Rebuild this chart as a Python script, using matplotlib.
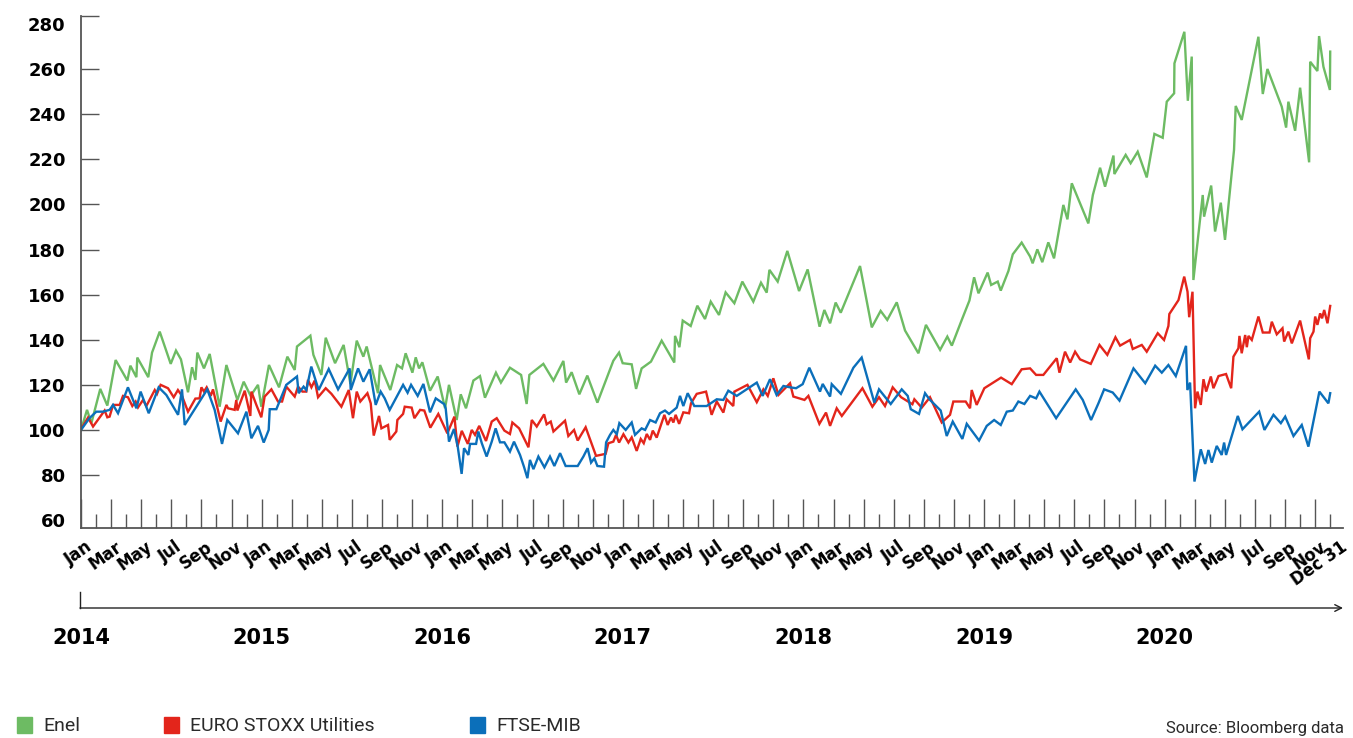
import numpy as np
import matplotlib
matplotlib.use("Agg")
import matplotlib.pyplot as plt
import matplotlib.transforms as mtransforms
from matplotlib.lines import Line2D
from matplotlib.patches import Rectangle

# x values are months since 1 Jan 2014 (83 = Dec 31 2020), values are index (2014 = 100)
enel_t = [0, 0.4, 0.69, 1.28, 1.75, 2.3, 3.08, 3.28, 3.68, 3.74, 4.47, 4.72, 5.23, 5.96, 6.31,
          6.64, 7.11, 7.38, 7.6, 7.73, 8.17, 8.55, 9.21, 9.66, 10.39, 10.81, 11.27, 11.76, 11.98,
          12.49, 13.16, 13.71, 14.2, 14.35, 15.24, 15.44, 15.97, 16.26, 16.88, 17.45, 17.9, 18.32,
          18.76, 18.98, 19.73, 19.87, 20.55, 21.0, 21.33, 21.57,
          22.02, 22.24, 22.46, 22.68, 23.19, 23.7, 24.19, 24.45, 24.96, 25.23, 25.58, 26.07, 26.51,
          26.84, 27.57, 27.9, 28.5, 29.24, 29.61, 29.79, 30.72, 31.39, 32.05, 32.23, 32.6, 33.11,
          33.64, 34.31, 35.37, 35.75, 35.99, 36.59, 36.88, 37.25, 37.87, 38.58, 39.42, 39.47,
          39.76, 39.98, 40.51, 40.95, 41.46, 41.84, 42.39,
          42.83, 43.41, 43.94, 44.67, 45.18, 45.56, 45.74, 46.29, 46.93, 47.71, 48.28, 49.07,
          49.39, 49.77, 50.14, 50.48, 51.76, 52.54, 53.13, 53.57, 54.2, 54.75, 55.64, 56.14, 57.08,
          57.56, 57.86, 58.52, 59.03, 59.34, 59.63, 60.24, 60.47, 60.91, 61.11, 61.62, 61.91, 62.5,
          63.06, 63.23, 63.54, 63.87, 64.27, 64.65, 65.27, 65.54, 65.83, 66.93, 67.23, 67.71,
          68.04, 68.6, 68.66, 69.41, 69.74, 70.21, 70.81, 71.32, 71.87, 72.14, 72.63, 72.65, 73.31,
          73.54, 73.8, 73.91, 74.53, 74.62, 75.09, 75.35, 75.73, 76.01, 76.61, 76.72, 77.12, 78.23,
          78.52, 78.83, 79.78, 80.07, 80.22, 80.67, 81.0, 81.6, 81.67, 82.15, 82.26, 82.55, 82.98, 83.0]
enel_v = [100, 108.9, 103, 118.2, 110.8, 131, 121.9, 128.5, 123.4, 132.1, 123.4, 134.3, 143.6, 129.3,
          135.2, 131.3, 116.7, 127.8, 122.2, 134.3, 127.3, 133.7, 110.3, 128.8, 113.3, 121.4, 115.1,
          120, 110.3, 128.8, 118.9, 132.5, 126.6, 137, 141.8, 133.3, 124.4, 140.9, 129.6, 137.7,
          120.4, 139.6, 132.5, 137, 116.3, 128.8, 117.7, 128.8, 127.3, 134,
          125.4, 132.2, 127.3, 130, 117.4, 123.7, 109.6, 120, 104.4, 115.8, 109.6, 121.9, 123.9,
          114.3, 125.4, 121, 127.6, 124.4, 111.5, 124.4, 129.3, 121.9, 130.6, 121, 125.6, 115.8,
          124.1, 112.1, 130.7, 134.3, 129.6, 129.1, 118.2, 127.3, 130.3, 139.6, 129.9, 141.7,
          136.7, 148.5, 146.1, 155.1, 149.2, 156.9, 151,
          161, 156.2, 165.8, 156.9, 165.3, 160.9, 171, 165.8, 179.4, 161.6, 171.2, 145.8, 153.2,
          147.3, 156.5, 152, 172.7, 145.5, 152.8, 148.8, 156.6, 144.1, 134, 146.6, 135.5, 141.4,
          137.4, 148.8, 157.4, 167.7, 160.6, 169.8, 164.3, 165.8, 161.8, 170.5, 177.9, 183.1,
          176.9, 173.9, 180.1, 174.4, 183.2, 176.1, 199.8, 193.4, 209.4, 191.6, 204.2, 216.3,
          207.9, 221.7, 213.5, 222, 218.3, 223.4, 212, 231.3, 229.6, 245.6, 249.3, 262.6, 276.6,
          246, 265.6, 166.5, 204.2, 194.6, 208.4, 188, 200.8, 184.3, 224.2, 243.7, 237.5, 274.4,
          249, 260.1, 243.4, 234.1, 245.6, 232.7, 251.8, 218.7, 263.3, 259.2, 274.7, 261.1, 250.8, 267.8]

stoxx_t = [0, 0.47, 0.8, 1.57, 1.75, 1.9, 2.13, 2.57, 2.79, 3.12, 3.41, 3.63, 3.79, 4.12, 4.34, 4.9,
           5.05, 5.29, 5.78, 6.16, 6.44, 6.71, 7.11, 7.6, 7.88, 8.0, 8.17, 8.35, 8.62, 8.77, 9.28,
           9.66, 9.77, 10.21, 10.32, 10.39, 10.88, 11.25, 11.32, 11.65, 11.98, 12.2, 12.65, 13.09,
           13.36, 13.64, 14.2, 14.42, 14.71, 14.97, 15.08, 15.31, 15.53, 15.75, 16.26, 16.64, 17.3,
           17.79, 18.07, 18.32, 18.56, 19.03, 19.25, 19.45, 19.8, 19.96, 20.4, 20.51, 20.95, 21.02,
           21.4, 21.51,
           21.97, 22.15, 22.53, 22.81, 23.21, 23.74, 24.34, 24.81, 25.01, 25.3, 25.7, 25.96, 26.18,
           26.46, 26.91, 27.29, 27.62, 28.13, 28.5, 28.66, 29.11, 29.73, 29.95, 30.28, 30.77, 30.94,
           31.21, 31.39, 32.16, 32.38, 32.76, 33.0, 33.53, 34.22, 34.86, 35.04, 35.37, 35.55, 35.75,
           36.04, 36.37, 36.59, 36.92, 37.19, 37.39, 37.59, 37.81, 37.99, 38.25, 38.76, 38.98, 39.2,
           39.36, 39.51, 39.74, 40.02, 40.4, 40.53, 40.91, 41.53, 41.9, 42.24, 42.68,
           42.9, 43.34, 43.41, 44.28, 44.9, 45.34, 45.63, 46.0, 46.34, 47.11, 47.33, 48.07, 48.33,
           49.06, 49.5, 49.77, 50.21, 50.55, 51.92, 52.58, 53.02, 53.42, 53.93, 54.49, 55.24, 55.37,
           55.86, 56.41, 57.19, 57.74, 57.96, 58.78, 59.07, 59.18, 59.51, 60.02, 61.13, 61.84, 62.5,
           63.06, 63.46, 63.94, 64.83, 65.01, 65.38, 65.72, 66.05, 66.38, 67.09, 67.67, 68.19,
           68.73, 69.04, 69.7, 69.88, 70.48, 70.81, 71.54, 71.96, 72.25, 72.31, 72.92, 73.3, 73.52,
           73.63, 73.85, 74.02, 74.18, 74.4, 74.58, 74.76, 75.07, 75.24, 75.58, 76.08, 76.42, 76.57,
           76.9, 76.97, 77.12, 77.35, 77.46, 77.57, 77.79, 78.23, 78.52, 78.97, 79.12, 79.45, 79.83,
           79.94, 80.22, 80.45, 81.0, 81.58, 81.67, 81.89, 82.0, 82.15, 82.33, 82.46, 82.6, 82.82, 83.0]
stoxx_v = [100.3, 105.5, 101.5, 108.6, 105.6, 105.9, 111.1, 111.1, 115.1, 114.5, 110.6, 112.6, 110,
           113.3, 110.6, 117.7, 116, 120, 118.5, 114.5, 117.7, 115.1, 108.1, 113.9, 114, 118.9, 117,
           118.9, 115.1, 118, 103.7, 111.1, 109.6, 108.9, 113.3, 108.6, 117.4, 106.2, 117, 111.1,
           105.6, 114.8, 118, 112.6, 112.6, 119.2, 114.8, 119.2, 117, 117, 122.2, 118.9, 121.9,
           114.5, 118.5, 116, 110.3, 117.7, 105.2, 117, 112.6, 116.3, 111.8, 97.5, 106.2, 100.7,
           102.2, 95.6, 99.3, 104.4, 107.1, 110.3,
           109.9, 105.2, 108.9, 108.6, 101, 107.1, 98.5, 105.9, 92.6, 99.6, 93.8, 100, 97.8, 101.8,
           95.1, 103.7, 105.2, 99.7, 98.2, 103.3, 100.7, 92.3, 104.4, 101.5, 106.9, 102.5, 103.7,
           99.3, 104.1, 97.3, 100, 95.3, 101.2, 88.5, 89.4, 94.1, 94.8, 97.8, 94.4, 98.1, 94.4, 96.7,
           90.7, 96, 94.1, 98.2, 95.6, 99.7, 96.6, 106.7, 102.2, 105.5, 103.3, 106.7, 102.7, 107.8,
           107.4, 111.8, 116, 117, 106.7, 112.6, 107.7,
           113.6, 110.6, 117, 120, 112.3, 118, 115.1, 122.9, 115.5, 120.7, 114.8, 113.3, 115.1,
           102.7, 107.7, 101.8, 109.6, 106.2, 118.5, 110.3, 114.5, 110.6, 118.9, 114.5, 111.4, 113.6,
           109.9, 114.5, 103.3, 106.7, 112.6, 112.6, 109.6, 117.7, 111.1, 118.5, 123.2, 120.3, 126.9,
           127.3, 124.4, 124.4, 131.8, 125.4, 134.7, 129.9, 134.7, 131.3, 129.3, 137.7, 133.3, 141.1,
           137.4, 139.9, 135.9, 137.7, 134.7, 142.9, 139.9, 146.1, 151.4, 157.6, 168, 161.3, 150,
           161.3, 109.6, 117, 111.1, 122.5, 117, 123.7, 118.5, 123.9, 124.8, 118.5, 132.5, 136.2,
           141.7, 134, 142.1, 136.7, 141.7, 139.9, 150.3, 143.2, 143.2, 148, 142.4, 145.1, 139.2,
           143.6, 138.4, 148.5, 131.3, 140.7, 143.6, 150.3, 146.6, 151.7, 149.5, 153.2, 147.3, 155]

ftse_t = [0, 0.56, 1.02, 1.46, 1.9, 2.13, 2.46, 3.12, 3.68, 3.96, 4.5, 5.16, 5.67, 6.45, 6.71, 6.89,
          8.39, 8.88, 9.37, 9.72, 10.43, 10.99, 11.32, 11.76, 12.14, 12.47, 12.54, 12.98, 13.64,
          14.35, 14.46, 14.79, 14.97, 15.3, 15.79, 16.46, 17.08, 17.85, 17.92, 18.41, 18.76, 19.18,
          19.58, 19.91, 20.18, 20.51, 21.4,
          21.7, 21.93, 22.37, 22.75, 23.19, 23.57, 24.14, 24.23, 24.45, 24.78, 25.03, 25.29, 25.45,
          25.74, 25.85, 26.25, 26.4, 26.63, 26.95, 27.29, 27.55, 27.84, 28.13, 28.5, 28.77, 29.17,
          29.43, 29.66, 29.83, 30.06, 30.39, 30.79, 31.16, 31.45, 31.83, 32.2, 33.0, 33.38, 33.66,
          33.89, 34.11, 34.31, 34.75, 34.89, 35.15, 35.37, 35.6, 35.77, 36.19, 36.59, 36.81, 37.25,
          37.48, 37.81, 38.18, 38.47, 38.8, 39.07, 39.58, 39.8, 40.02, 40.31, 40.75, 41.57, 42.24, 42.68,
          43.01, 43.57, 44.34, 44.9, 45.29, 45.78, 46.22, 46.67, 47.11, 47.51, 47.95, 48.39, 49.1,
          49.28, 49.77, 49.88, 50.49, 51.32, 51.87, 52.71, 53.02, 53.8, 54.53, 54.93, 55.13, 55.68,
          56.08, 56.37, 57.12, 57.52, 57.92, 58.56, 58.85, 59.67, 60.18, 60.67, 61.11, 61.51, 61.91,
          62.28, 62.68,
          63.06, 63.46, 63.68, 64.79, 66.09, 66.56, 67.11, 67.6, 67.98, 68.55, 69.0, 69.93, 70.71,
          71.37, 71.81, 72.25, 72.74, 73.42, 73.51, 73.69, 73.98, 74.4, 74.69, 74.91, 75.13, 75.46,
          75.79, 75.95, 76.08, 76.86, 77.17, 78.28, 78.63, 79.23, 79.72, 80.01, 80.56, 81.11, 81.55,
          82.28, 82.88, 83.0]
ftse_v = [100, 105.2, 108.1, 108.1, 108.9, 111.1, 107.4, 118.9, 109.6, 117, 107.4, 118.9, 115.5,
          106.7, 118, 102.2, 118, 108.9, 93.8, 104.4, 98.5, 108.1, 96.3, 101.8, 94.4, 100, 109.2,
          109.2, 120, 123.7, 116.3, 119.2, 117.7, 128.1, 117.7, 127, 118, 127.3, 117.7, 127.3, 121.4,
          126.9, 111.1, 117, 114, 108.9, 120,
          116.5, 120, 115.1, 120.4, 107.8, 114, 111.4, 109.6, 94.8, 100.4, 92.6, 80.5, 91.9, 88.9,
          93.8, 93.8, 99.3, 94.1, 88.2, 94.8, 100.7, 94.5, 94.5, 90.4, 94.8, 88.9, 83.7, 78.6, 86.7,
          82.6, 88.2, 83.4, 88.2, 84, 89.7, 84, 84, 88.2, 91.9, 85.5, 87.4, 84, 83.7, 94.5, 97.8, 100,
          98.1, 103, 100, 103.3, 97.8, 100.7, 100, 104.4, 103.3, 107.4, 108.6, 107.1, 109.9, 115.1,
          110.6, 116.3, 110.6, 110.6, 113.6, 113.3,
          117.4, 115.1, 118.5, 121, 115.1, 122.5, 115.5, 119.5, 118.9, 118.5, 120.3, 127.6, 117,
          120.4, 114.8, 120.3, 116, 127.6, 132.1, 112.1, 118, 111.5, 118, 115.1, 109.2, 107.1, 116.3,
          113.6, 108.6, 97.3, 103.7, 96, 102.7, 95.3, 101.8, 104.4, 102.2, 108.1, 108.6, 112.6, 111.5,
          115.1, 114, 117, 105.2, 118, 113.3, 104.4, 111.8, 118, 116.6, 113, 127.3, 120.7, 128.5,
          125.4, 128.8, 123.9, 137.3, 117.7, 121, 77.1, 91.4, 84.9, 91.1, 85.5, 92.9, 88.9, 94.4,
          88.9, 106.2, 100.3, 108.1, 100, 106.7, 103, 105.9, 97.3, 102.2, 92.6, 117, 111.8, 116.3]

series_names = ["Enel", "EURO STOXX Utilities", "FTSE-MIB"]
series_colors = ["#6dbb63", "#e3251b", "#0b6fba"]
month_labels = ["Jan", "Mar", "May", "Jul", "Sep", "Nov"] * 7
years = ["2014", "2015", "2016", "2017", "2018", "2019", "2020"]
y_ticks = [60, 80, 100, 120, 140, 160, 180, 200, 220, 240, 260, 280]

W, H = 1353, 738
fig = plt.figure(figsize=(W / 100, H / 100), dpi=100)
ax = fig.add_axes([81 / W, 1 - 528 / H, (1343 - 81) / W, (528 - 16) / H])

for t, v, name, col in zip([enel_t, stoxx_t, ftse_t], [enel_v, stoxx_v, ftse_v],
                           series_names, series_colors):
    ax.plot(t, v, color=col, lw=1.7, solid_joinstyle="miter", label=name)

ax.set_xlim(0, 83.85)
ax.set_ylim(56.5, 283.6)

for s in ["top", "right"]:
    ax.spines[s].set_visible(False)
for s in ["left", "bottom"]:
    ax.spines[s].set_color("#555555")
    ax.spines[s].set_linewidth(1.3)

# y axis
ax.set_yticks(y_ticks)
ax.set_yticklabels([str(v) for v in y_ticks], fontsize=13, fontweight="bold",
                   family="DejaVu Sans")
ax.set_yticks([283.6], minor=True)
ax.tick_params(axis="y", which="both", direction="in", length=13, width=1,
               color="#555555", pad=11)
for tk in ax.yaxis.get_major_ticks():
    if tk.get_loc() in (60, 280):
        tk.tick1line.set_visible(False)

# x axis: one tick per month
ax.set_xticks(np.arange(0, 84, 2))
ax.set_xticklabels(month_labels, fontsize=12, fontweight="bold", rotation=35,
                   ha="right", va="top", rotation_mode="anchor")
minor_pos = np.arange(1, 84, 2)
minor_lab = [""] * len(minor_pos)
minor_lab[-1] = "Dec 31"
ax.set_xticks(minor_pos, minor=True)
ax.set_xticklabels(minor_lab, minor=True, fontsize=12, fontweight="bold", rotation=35,
                   ha="right", va="top", rotation_mode="anchor")
ax.tick_params(axis="x", which="major", direction="in", length=21, width=1,
               color="#555555", pad=7)
ax.tick_params(axis="x", which="minor", direction="in", length=10, width=1,
               color="#555555", pad=7)
off = mtransforms.ScaledTranslation(0.04, 0, fig.dpi_scale_trans)
for lab in ax.get_xticklabels() + ax.get_xticklabels(minor=True):
    lab.set_transform(lab.get_transform() + off)
dec = ax.get_xticklabels(minor=True)[-1]
dec.set_transform(dec.get_transform() + mtransforms.ScaledTranslation(0.06, 0, fig.dpi_scale_trans))

# year timeline
trans = mtransforms.blended_transform_factory(ax.transData, fig.transFigure)
for i, yr in enumerate(years):
    ax.text(12 * i, 1 - 638 / H, yr, transform=trans, ha="center", va="center",
            fontsize=15, fontweight="bold", clip_on=False)
y_arrow = 1 - 608 / H
ax.annotate("", xy=(1343 / W, y_arrow), xytext=(80 / W, y_arrow),
            xycoords="figure fraction", textcoords="figure fraction",
            arrowprops=dict(arrowstyle="->", lw=1, color="#222222", mutation_scale=12,
                            shrinkA=0, shrinkB=0))
fig.add_artist(Line2D([80 / W, 80 / W], [y_arrow, 1 - 592 / H], color="#222222", lw=1))

# legend
leg_x = [17, 164, 470]
for x0, name, col in zip(leg_x, series_names, series_colors):
    fig.add_artist(Rectangle((x0 / W, 1 - 733 / H), 15 / W, 16 / H, color=col,
                             transform=fig.transFigure))
    fig.text((x0 + 26) / W, 1 - 726 / H, name, ha="left", va="center", fontsize=14,
             family=["Roboto", "DejaVu Sans"], color="#2a2a2a")

fig.text(1344 / W, 1 - 729 / H, "Source: Bloomberg data", ha="right", va="center",
         fontsize=12, family=["Roboto", "DejaVu Sans"], color="#2a2a2a")

fig.savefig("out.png", dpi=100)
